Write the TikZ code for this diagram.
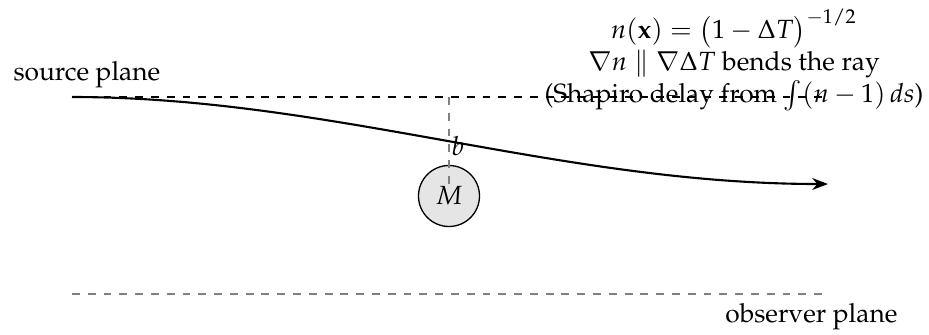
\documentclass[tikz,border=0pt]{standalone}
\usepackage[T1]{fontenc}
\usepackage{mathpazo}
\usetikzlibrary{arrows.meta}
\begin{document}
\begin{tikzpicture}[x=0.38pt,y=-0.38pt,
  plane/.style={dashed,line width=0.4pt},
  obsplane/.style={dashed,gray,line width=0.5pt},
  ray/.style={thick,-{Stealth[length=6pt,width=4.5pt]}},
  mass/.style={circle,draw,line width=0.5pt,fill=gray!20,minimum size=61*0.38pt,inner sep=0pt},
  lbl/.style={inner sep=0pt}]
\useasboundingbox (0,0) rectangle (929,334);
% planes
\coordinate (s0) at (72,97);
\coordinate (s1) at (828,97);
\coordinate (o0) at (72,294);
\coordinate (o1) at (827,294);
\draw[plane] (s0) -- (s1);
\draw[obsplane] (o0) -- (o1);
\node[lbl,anchor=base west] (src) at (13,80) {source plane};
\node[lbl,anchor=base east] (obs) at (898,322) {observer plane};
% mass
\node[mass] (M) at (449,196) {$M$};
\coordinate (top) at (449,97);
\draw[dashed,gray,line width=0.5pt,shorten >=4pt] (top) -- (M.center);
% ray
\coordinate (r1) at (828,184);
\draw[ray] (s0) .. controls (330,97) and (560,184) .. (r1);
\node[lbl] (b) at (458,146) {$b$};
% annotation
\node[lbl,align=center,anchor=base] (ann) at (734,102)
  {$n(\mathbf{x}) = \bigl(1-\Delta T\bigr)^{-1/2}$\\
   $\nabla n \parallel \nabla\Delta T$ bends the ray\\
   (Shapiro delay from $\int (n-1)\,ds$)};
\end{tikzpicture}
\end{document}
